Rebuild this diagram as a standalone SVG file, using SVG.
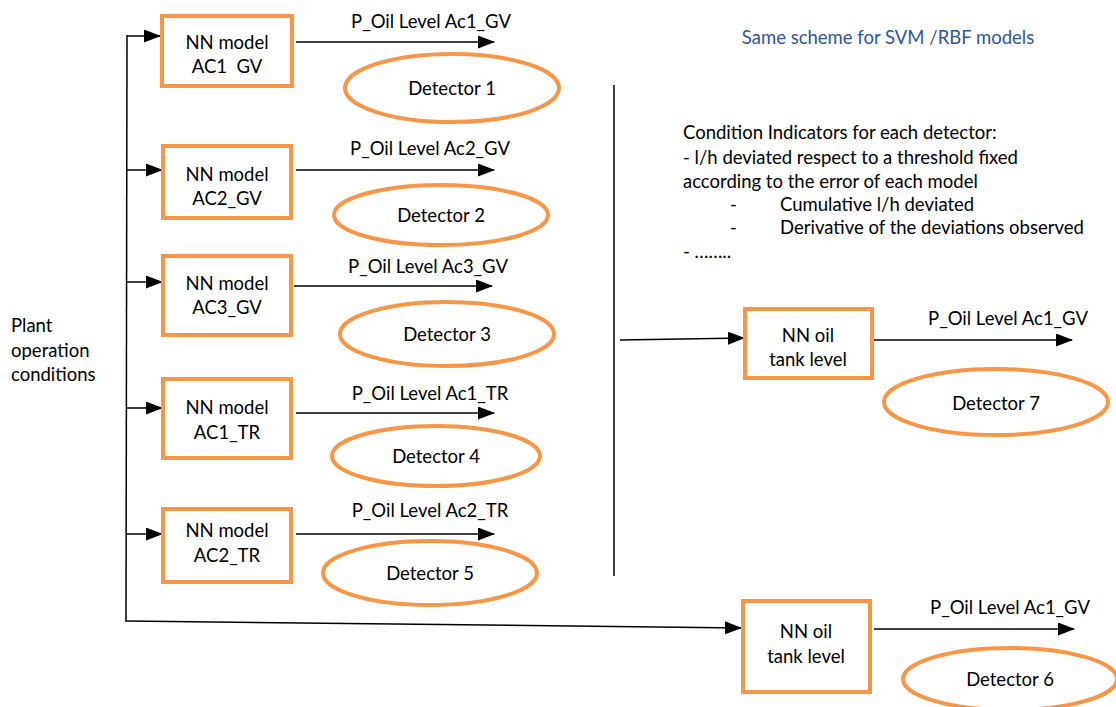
<svg xmlns="http://www.w3.org/2000/svg" width="1116" height="707" viewBox="0 0 1116 707">
<defs>
<marker id="ah" viewBox="0 0 17 13" refX="16" refY="6.5" markerWidth="17" markerHeight="13" markerUnits="userSpaceOnUse" orient="auto">
<path d="M0,0 L17,6.5 L0,13 z" fill="#000"/>
</marker>
<style>
text{font-family:Lato,"Open Sans","Liberation Sans",sans-serif;font-size:18.5px;fill:#000;white-space:pre}
.c{text-anchor:middle}
.box{fill:#fff;stroke:#F79646;stroke-width:4}
.ell{fill:none;stroke:#F79646;stroke-width:4}
.ln{stroke:#000;stroke-width:1.5;fill:none}
.ar{stroke:#000;stroke-width:1.5;fill:none;marker-end:url(#ah)}
.blue{fill:#2F5597}
</style>
</defs>
<rect width="1116" height="707" fill="#fff"/>
<g id="connectors">
<line class="ln" x1="127" y1="35" x2="126" y2="622"/>
<line class="ar" x1="127" y1="36" x2="160" y2="36"/>
<line class="ar" x1="127" y1="170" x2="162" y2="170"/>
<line class="ar" x1="127" y1="282" x2="162" y2="282"/>
<line class="ar" x1="127" y1="408" x2="162" y2="408"/>
<line class="ar" x1="126" y1="534" x2="162" y2="534"/>
<line class="ar" x1="127" y1="621" x2="741" y2="628"/>
<line class="ar" x1="296" y1="42" x2="494" y2="42"/>
<line class="ar" x1="296" y1="170" x2="494" y2="170"/>
<line class="ar" x1="294" y1="286" x2="492" y2="286"/>
<line class="ar" x1="296" y1="413" x2="494" y2="413"/>
<line class="ar" x1="296" y1="534" x2="494" y2="534"/>
<line class="ln" x1="614" y1="85" x2="614" y2="576"/>
<line class="ar" x1="620" y1="340" x2="744" y2="338"/>
<line class="ar" x1="873" y1="340" x2="1072" y2="340"/>
<line class="ar" x1="874" y1="629" x2="1074" y2="629"/>
</g>
<g id="labels">
<text class="c" x="431" y="28">P_Oil Level Ac1_GV</text>
<text class="c" x="430" y="155">P_Oil Level Ac2_GV</text>
<text class="c" x="428" y="273">P_Oil Level Ac3_GV</text>
<text class="c" x="430" y="400">P_Oil Level Ac1_TR</text>
<text class="c" x="430" y="517">P_Oil Level Ac2_TR</text>
<text class="c" x="1008" y="325">P_Oil Level Ac1_GV</text>
<text class="c" x="1010" y="614">P_Oil Level Ac1_GV</text>
<text class="c blue" x="888" y="44">Same scheme for SVM /RBF models</text>
<text x="11" y="332">Plant</text>
<text x="11" y="357">operation</text>
<text x="11" y="381">conditions</text>
</g>
<g id="conditions">
<text x="683" y="139">Condition Indicators for each detector:</text>
<text x="683" y="164">- l/h deviated respect to a threshold fixed</text>
<text x="683" y="188">according to the error of each model</text>
<text x="730" y="211">-</text><text x="780" y="211">Cumulative l/h deviated</text>
<text x="730" y="234">-</text><text x="780" y="234">Derivative of the deviations observed</text>
<text x="683" y="258">- ……..</text>
</g>
<g id="nn1"><rect class="box" x="162" y="16" width="130" height="70"/><text class="c" x="227" y="49">NN model</text><text class="c" x="227" y="73">AC1  GV</text></g>
<g id="nn2"><rect class="box" x="163" y="146" width="128" height="72"/><text class="c" x="227" y="181">NN model</text><text class="c" x="227" y="205">AC2_GV</text></g>
<g id="nn3"><rect class="box" x="163" y="256" width="128" height="79"/><text class="c" x="227" y="290">NN model</text><text class="c" x="227" y="314">AC3_GV</text></g>
<g id="nn4"><rect class="box" x="163" y="379" width="128" height="79"/><text class="c" x="227" y="414">NN model</text><text class="c" x="227" y="439">AC1_TR</text></g>
<g id="nn5"><rect class="box" x="163" y="509" width="128" height="73"/><text class="c" x="227" y="537">NN model</text><text class="c" x="227" y="562">AC2_TR</text></g>
<g id="nn6"><rect class="box" x="743" y="601" width="127" height="91"/><text class="c" x="806" y="638">NN oil</text><text class="c" x="806" y="663">tank level</text></g>
<g id="nn7"><rect class="box" x="745" y="309" width="127" height="69"/><text class="c" x="808" y="342">NN oil</text><text class="c" x="808" y="366">tank level</text></g>
<g id="det1"><ellipse class="ell" cx="452" cy="88" rx="107" ry="34"/><text class="c" x="452" y="95">Detector 1</text></g>
<g id="det2"><ellipse class="ell" cx="441" cy="215" rx="107" ry="30"/><text class="c" x="441" y="222">Detector 2</text></g>
<g id="det3"><ellipse class="ell" cx="447" cy="334" rx="107" ry="32"/><text class="c" x="447" y="341">Detector 3</text></g>
<g id="det4"><ellipse class="ell" cx="436" cy="456" rx="104" ry="30"/><text class="c" x="436" y="463">Detector 4</text></g>
<g id="det5"><ellipse class="ell" cx="430" cy="573" rx="107" ry="32"/><text class="c" x="430" y="580">Detector 5</text></g>
<g id="det6"><ellipse class="ell" cx="1010" cy="679" rx="107" ry="31"/><text class="c" x="1010" y="686">Detector 6</text></g>
<g id="det7"><ellipse class="ell" cx="996" cy="402" rx="112" ry="33"/><text class="c" x="996" y="410">Detector 7</text></g>
</svg>
